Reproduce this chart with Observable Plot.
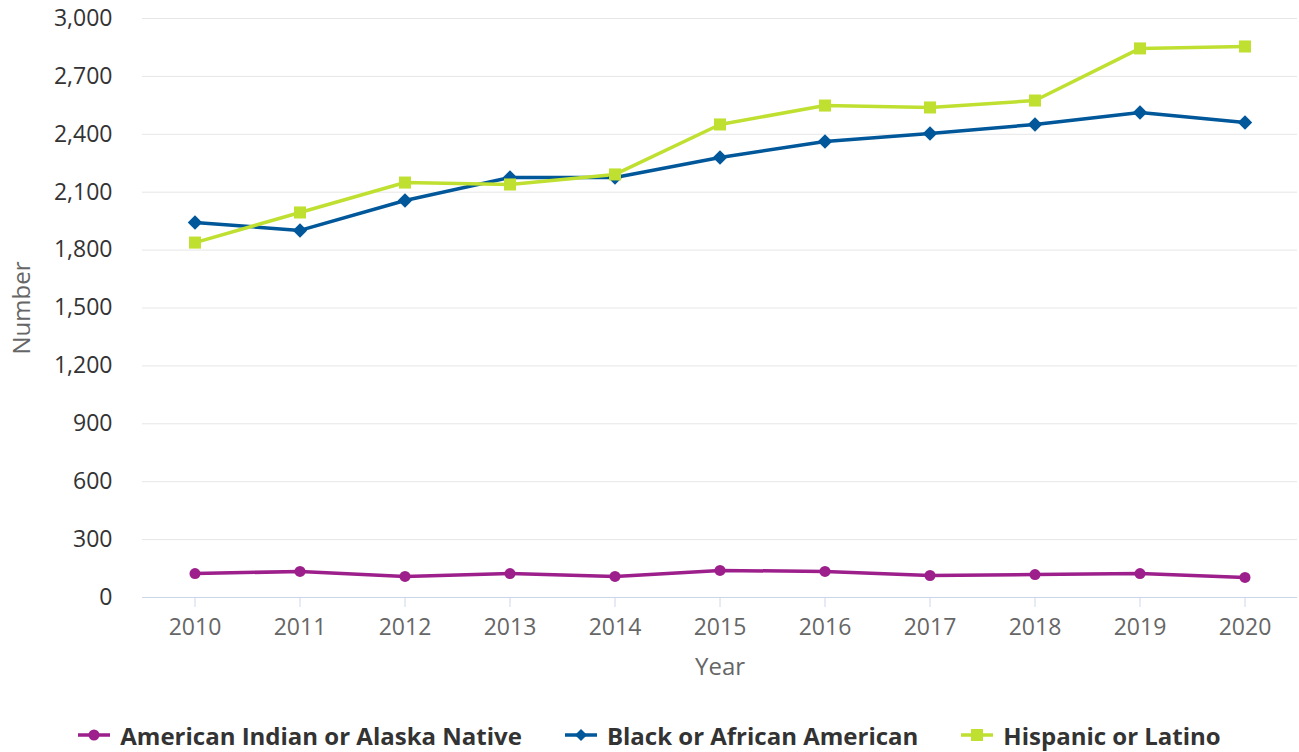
<!DOCTYPE html>
<html>
<head>
<meta charset="utf-8">
<script src="https://cdn.jsdelivr.net/npm/d3@7"></script>
<script src="https://cdn.jsdelivr.net/npm/@observablehq/plot@0.6"></script>
<style>
  html, body { margin: 0; padding: 0; background: #fff; }
  body { width: 1299px; height: 752px; overflow: hidden; font-family: "Open Sans", sans-serif; }
  #chart { height: 700px; }
  #legend { display: flex; justify-content: center; align-items: center; height: 52px; margin-top: 9px; gap: 43px; font-family: "Open Sans", sans-serif; font-weight: 700; font-size: 24px; color: #333; }
  .item { display: flex; align-items: center; gap: 10px; }
</style>
</head>
<body>
<div id="chart"></div>
<div id="legend"></div>
<script>
const years = [2010, 2011, 2012, 2013, 2014, 2015, 2016, 2017, 2018, 2019, 2020];
const seriesNames = ["American Indian or Alaska Native", "Black or African American", "Hispanic or Latino"];
const aian = [124, 135, 109, 124, 109, 140, 135, 114, 119, 124, 104];
const black = [1943, 1902, 2057, 2176, 2176, 2280, 2363, 2404, 2451, 2513, 2461];
const hispanic = [1839, 1995, 2150, 2140, 2192, 2451, 2549, 2539, 2575, 2845, 2855];
const yTicks = [0, 300, 600, 900, 1200, 1500, 1800, 2100, 2400, 2700, 3000];
const colors = ["#9c1f8b", "#00579a", "#bfe030"];
const symbols = ["circle", "diamond2", "square"];
const radii = [5.5, 6.5, 6.8];

const valuesBySeries = [aian, black, hispanic];
const rows = seriesNames.flatMap((s, i) => years.map((y, j) => ({series: s, year: y, value: valuesBySeries[i][j]})));

const chart = Plot.plot({
  width: 1299,
  height: 700,
  marginLeft: 142,
  marginRight: 2,
  marginTop: 18,
  marginBottom: 103,
  style: {fontFamily: "Open Sans", background: "#fff"},
  x: {type: "linear", domain: [2009.5, 2020.5]},
  y: {domain: [0, 3000]},
  marks: [
    Plot.gridY(yTicks.filter(d => d > 0), {stroke: "#e6e6e6", strokeOpacity: 1, strokeWidth: 1}),
    Plot.ruleY([0], {stroke: "#ccd6eb", strokeWidth: 1}),
    Plot.axisY(yTicks, {tickSize: 0, tickPadding: 30, tickFormat: d3.format(","), fontSize: 23, color: "#333", label: null}),
    Plot.axisX(years, {tickSize: 10, tickPadding: 11, tickFormat: d => String(d), fontSize: 23, color: "#666", stroke: "#ccd6eb", label: null}),
    Plot.text(["Number"], {frameAnchor: "left", dx: -120, rotate: -90, textAnchor: "middle", lineAnchor: "middle", fontSize: 24, fill: "#666"}),
    Plot.text(["Year"], {frameAnchor: "bottom", dy: 70, textAnchor: "middle", lineAnchor: "middle", fontSize: 24, fill: "#666"}),
    ...seriesNames.map((s, i) => Plot.line(rows.filter(r => r.series === s), {x: "year", y: "value", stroke: colors[i], strokeWidth: 3.5})),
    ...seriesNames.map((s, i) => Plot.dot(rows.filter(r => r.series === s), {x: "year", y: "value", fill: colors[i], symbol: symbols[i], r: radii[i]}))
  ]
});
document.getElementById("chart").appendChild(chart);

const legend = document.getElementById("legend");
seriesNames.forEach((s, i) => {
  const item = document.createElement("div");
  item.className = "item";
  const sym = i === 0 ? `<circle cx="16" cy="10" r="5.5" fill="${colors[i]}"/>`
    : i === 1 ? `<path d="M16 4 L22 10 L16 16 L10 10 Z" fill="${colors[i]}"/>`
    : `<rect x="10" y="4" width="12" height="12" fill="${colors[i]}"/>`;
  item.innerHTML = `<svg width="32" height="20"><line x1="0" y1="10" x2="32" y2="10" stroke="${colors[i]}" stroke-width="3.5"/>${sym}</svg><span>${s}</span>`;
  legend.appendChild(item);
});
</script>
</body>
</html>
